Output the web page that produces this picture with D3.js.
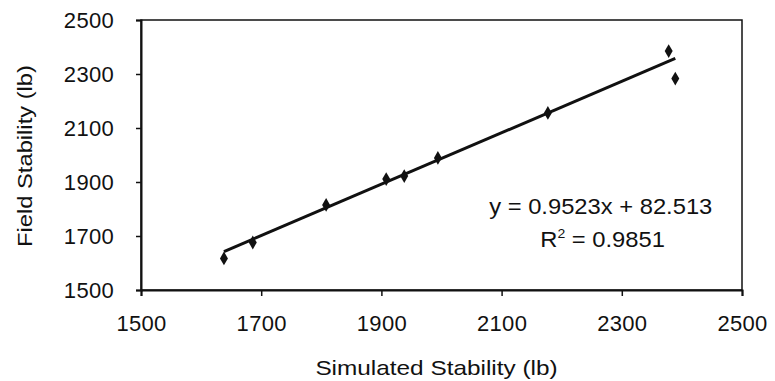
<!DOCTYPE html>
<html lang="en">
<head>
<meta charset="utf-8">
<title>Field vs Simulated Stability</title>
<script src="https://d3js.org/d3.v7.min.js"></script>
<style>
  body { margin: 0; background: #fff; }
  text { font-family: "Liberation Sans", Arial, sans-serif; fill: #111; }
</style>
</head>
<body>
<div id="chart"></div>
<script>
// data
var simulated = [1638, 1686, 1808, 1908, 1938, 1994, 2177, 2378, 2389];
var field = [1617, 1676, 1815, 1911, 1922, 1989, 2156, 2385, 2283];
var ticks = [1500, 1700, 1900, 2100, 2300, 2500];
var slope = 0.9523, intercept = 82.513, r2 = 0.9851;

var W = 775, H = 381;
var margin = { top: 20, right: 33, bottom: 91, left: 141 },
  width = W - margin.left - margin.right,
  height = H - margin.top - margin.bottom;

var svg = d3.select("#chart").append("svg")
  .attr("width", W).attr("height", H);
var g = svg.append("g")
  .attr("transform", "translate(" + margin.left + "," + margin.top + ")");

var x = d3.scaleLinear().domain([1500, 2500]).range([0, width]);
var y = d3.scaleLinear().domain([1500, 2500]).range([height, 0]);

// frame
g.append("rect")
  .attr("width", width).attr("height", height)
  .attr("fill", "none").attr("stroke", "#111").attr("stroke-width", 1.5);

// axes
var fmt = d3.format("d");
var xAxis = g.append("g")
  .attr("transform", "translate(0," + height + ")")
  .call(d3.axisBottom(x).tickValues(ticks).tickFormat(fmt).tickSize(6).tickPadding(19));
var yAxis = g.append("g")
  .call(d3.axisLeft(y).tickValues(ticks).tickFormat(fmt).tickSize(5).tickPadding(22));
[xAxis, yAxis].forEach(a => {
  a.select(".domain").attr("stroke", "#111").attr("stroke-width", 2);
  a.selectAll(".tick line").attr("stroke", "#111").attr("stroke-width", 1.5);
  a.selectAll(".tick text").attr("font-size", 22)
    .attr("font-family", "Liberation Sans, Arial, sans-serif").attr("fill", "#111")
    .attr("letter-spacing", 0.3);
});
yAxis.selectAll(".tick text").attr("dy", "0.36em");

// trendline
var x0 = d3.min(simulated), x1 = d3.max(simulated);
g.append("line")
  .attr("x1", x(x0)).attr("y1", y(slope * x0 + intercept))
  .attr("x2", x(x1)).attr("y2", y(slope * x1 + intercept))
  .attr("stroke", "#111").attr("stroke-width", 3);

// points
g.selectAll(".pt").data(simulated).enter().append("path")
  .attr("class", "pt")
  .attr("transform", (d, i) => "translate(" + x(d) + "," + y(field[i]) + ")")
  .attr("d", d3.symbol().type(d3.symbolDiamond).size(55))
  .attr("fill", "#111");

// equation
var eq = g.append("g").attr("transform", "translate(" + x(2265) + "," + y(1781) + ") scale(1.08,1)");
eq.append("text").attr("text-anchor", "middle").attr("font-size", 22)
  .text("y = " + slope + "x + " + intercept);
var r = g.append("g").attr("transform", "translate(" + x(2268) + "," + y(1661) + ") scale(1.08,1)");
var rt = r.append("text").attr("text-anchor", "middle").attr("font-size", 22);
rt.append("tspan").text("R");
rt.append("tspan").attr("font-size", 13).attr("dy", -9).text("2");
rt.append("tspan").attr("dy", 9).text(" = " + r2);

// axis titles
svg.append("g")
  .attr("transform", "translate(" + (margin.left + width / 2 - 5) + ",375) scale(1.16,1)")
  .append("text").attr("text-anchor", "middle").attr("font-size", 21)
  .text("Simulated Stability (lb)");
svg.append("g")
  .attr("transform", "translate(32," + (margin.top + height / 2 + 1) + ") rotate(-90) scale(1.13,1)")
  .append("text").attr("text-anchor", "middle").attr("font-size", 21)
  .text("Field Stability (lb)");
</script>
</body>
</html>
